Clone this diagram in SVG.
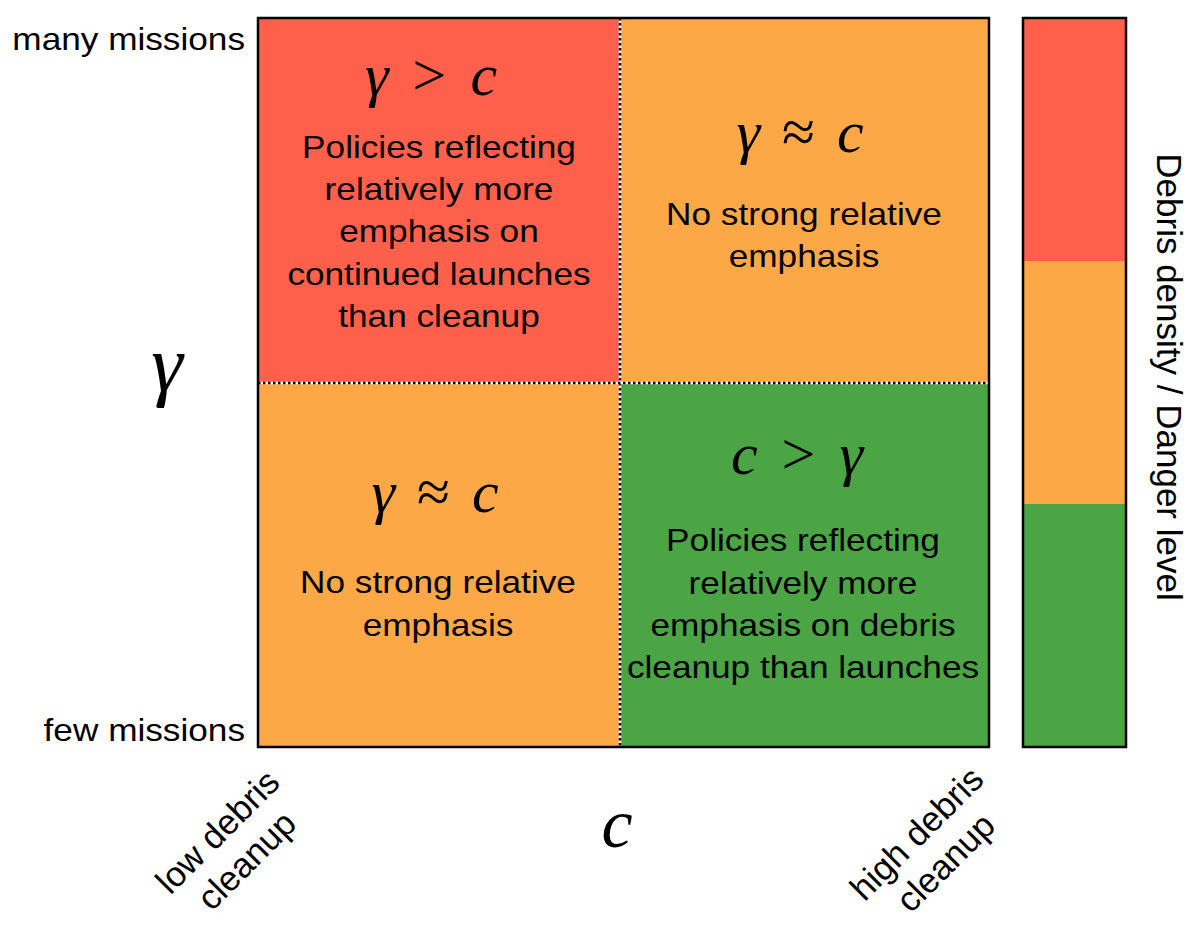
<svg xmlns="http://www.w3.org/2000/svg" width="1200" height="926" viewBox="0 0 1200 926">
<style>
.red{fill:#FE604C}
.orange{fill:#FDA846}
.green{fill:#4BA544}
.frame{fill:none;stroke:#000;stroke-width:2.5}
.t{font-family:"Liberation Sans",Arial,sans-serif;font-size:32px;fill:#000}
.tc{text-anchor:middle}
.te{text-anchor:end}
.lab{font-family:"Liberation Sans",Arial,sans-serif;font-size:35px;fill:#000;text-anchor:middle}
.math{font-family:"Liberation Serif","Times New Roman",serif;font-size:60px;fill:#000;text-anchor:middle}
.it{font-style:italic}
.divw{stroke:#fff;stroke-width:2.5;fill:none}
.divk{stroke:#000;stroke-width:2.5;stroke-dasharray:2.5 2.5;fill:none}
</style>
<rect width="1200" height="926" fill="#fff"/>

<g id="q1">
<rect class="red" x="258" y="18" width="362" height="365"/>
<text class="math" x="431" y="95"><tspan class="it">γ</tspan><tspan dx="24">&gt;</tspan><tspan dx="24" class="it">c</tspan></text>
<text class="t tc" transform="translate(439,0) scale(1.1,1)"><tspan x="0" y="158">Policies reflecting</tspan><tspan x="0" y="200">relatively more</tspan><tspan x="0" y="242">emphasis on</tspan><tspan x="0" y="285">continued launches</tspan><tspan x="0" y="327">than cleanup</tspan></text>
</g>

<g id="q2">
<rect class="orange" x="620" y="18" width="369" height="365"/>
<text class="math" x="800" y="152"><tspan class="it">γ</tspan><tspan dx="22">≈</tspan><tspan dx="22" class="it">c</tspan></text>
<text class="t tc" transform="translate(804,0) scale(1.1,1)"><tspan x="0" y="225">No strong relative</tspan><tspan x="0" y="267">emphasis</tspan></text>
</g>

<g id="q3">
<rect class="orange" x="258" y="383" width="362" height="364"/>
<text class="math" x="435" y="512"><tspan class="it">γ</tspan><tspan dx="22">≈</tspan><tspan dx="22" class="it">c</tspan></text>
<text class="t tc" transform="translate(438,0) scale(1.1,1)"><tspan x="0" y="593">No strong relative</tspan><tspan x="0" y="636">emphasis</tspan></text>
</g>

<g id="q4">
<rect class="green" x="620" y="383" width="369" height="364"/>
<text class="math" x="797" y="474"><tspan class="it">c</tspan><tspan dx="24">&gt;</tspan><tspan dx="24" class="it">γ</tspan></text>
<text class="t tc" transform="translate(803,0) scale(1.1,1)"><tspan x="0" y="551">Policies reflecting</tspan><tspan x="0" y="594">relatively more</tspan><tspan x="0" y="636">emphasis on debris</tspan><tspan x="0" y="678">cleanup than launches</tspan></text>
</g>

<g id="connectors">
<line class="divw" x1="620" y1="18" x2="620" y2="747"/>
<line class="divk" x1="620" y1="18" x2="620" y2="747"/>
<line class="divw" x1="258" y1="383" x2="989" y2="383"/>
<line class="divk" x1="258" y1="383" x2="989" y2="383"/>
</g>

<g id="grid-frame">
<rect class="frame" x="258" y="18" width="731" height="729"/>
</g>

<g id="legend">
<rect class="red" x="1023" y="18" width="103" height="243"/>
<rect class="orange" x="1023" y="261" width="103" height="243"/>
<rect class="green" x="1023" y="504" width="103" height="243"/>
<rect class="frame" x="1023" y="18" width="103" height="729"/>
<text class="lab" transform="translate(1157,377) rotate(90)" x="0" y="0">Debris density / Danger level</text>
</g>

<g id="y-axis">
<text class="t te" transform="translate(245,50) scale(1.1,1)" x="0" y="0">many missions</text>
<text class="t te" transform="translate(245,741) scale(1.1,1)" x="0" y="0">few missions</text>
<text class="math it" x="167" y="391" style="font-size:80px">γ</text>
</g>

<g id="x-axis">
<text class="lab" transform="translate(226,840) rotate(-45)"><tspan x="0" y="0">low debris</tspan><tspan x="0" y="41">cleanup</tspan></text>
<text class="math it" x="617" y="847" style="font-size:70px">c</text>
<text class="lab" transform="translate(925,842) rotate(-45)"><tspan x="0" y="0">high debris</tspan><tspan x="0" y="41">cleanup</tspan></text>
</g>
</svg>
